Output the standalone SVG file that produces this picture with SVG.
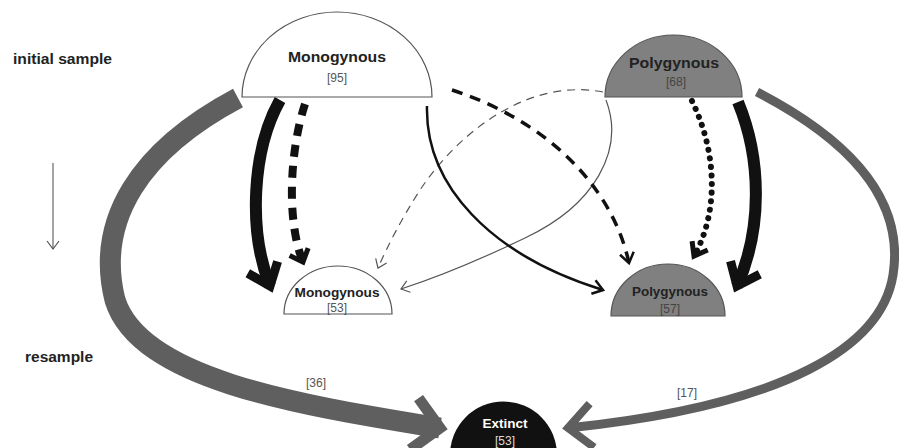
<svg xmlns="http://www.w3.org/2000/svg" width="899" height="448" viewBox="0 0 899 448">
<style>
.lbl{font-family:"Liberation Sans",Arial,sans-serif;font-weight:bold;fill:#222}
.num{font-family:"Liberation Sans",Arial,sans-serif;fill:#555}
.node{stroke:#555;stroke-width:1.2}
.c{fill:none}
</style>
<defs>
<marker id="mGreyL" markerUnits="userSpaceOnUse" orient="auto" markerWidth="1" markerHeight="1" refX="0" refY="0" overflow="visible"><path d="M-26,-26 L0,0 L-26,26" fill="none" stroke="#5f5f5f" stroke-width="11"/></marker>
<marker id="mGreyR" markerUnits="userSpaceOnUse" orient="auto" markerWidth="1" markerHeight="1" refX="0" refY="0" overflow="visible"><path d="M-24,-22 L0,0 L-24,22" fill="none" stroke="#5f5f5f" stroke-width="8"/></marker>
<marker id="mBlackBig" markerUnits="userSpaceOnUse" orient="auto" markerWidth="1" markerHeight="1" refX="0" refY="0" overflow="visible"><path d="M-20,-16 L0,0 L-20,16" fill="none" stroke="#111" stroke-width="9"/></marker>
<marker id="mBlackMid" markerUnits="userSpaceOnUse" orient="auto" markerWidth="1" markerHeight="1" refX="0" refY="0" overflow="visible"><path d="M-11,-10 L0,0 L-11,10" fill="none" stroke="#111" stroke-width="5"/></marker>
<marker id="mBlackThin" markerUnits="userSpaceOnUse" orient="auto" markerWidth="1" markerHeight="1" refX="0" refY="0" overflow="visible"><path d="M-10,-7 L0,0 L-10,7" fill="none" stroke="#111" stroke-width="2.5"/></marker>
<marker id="mDot" markerUnits="userSpaceOnUse" orient="auto" markerWidth="1" markerHeight="1" refX="0" refY="0" overflow="visible"><path d="M-12,-9 L0,0 L-12,9" fill="none" stroke="#111" stroke-width="5"/></marker>
<marker id="mGreyThin" markerUnits="userSpaceOnUse" orient="auto" markerWidth="1" markerHeight="1" refX="0" refY="0" overflow="visible"><path d="M-8,-6 L0,0 L-8,6" fill="none" stroke="#555" stroke-width="1.2"/></marker>
</defs>
<rect width="899" height="448" fill="#fff"/>
<text class="lbl" x="13" y="64" font-size="14" textLength="99" lengthAdjust="spacingAndGlyphs">initial sample</text>
<text class="lbl" x="25" y="362" font-size="14" textLength="68" lengthAdjust="spacingAndGlyphs">resample</text>
<g id="time-arrow"><path class="c" d="M53,163 V249" stroke="#666" stroke-width="1.2" marker-end="url(#mGreyThin)"/></g>
<g id="connectors">
<path class="c" d="M238,98 C140,150 95,220 115,300 C140,380 300,405 440,428" stroke="#5f5f5f" stroke-width="21" marker-end="url(#mGreyL)"/>
<path class="c" d="M757,92 C850,140 905,200 893,275 C882,345 790,405 568,428" stroke="#5f5f5f" stroke-width="9" marker-end="url(#mGreyR)"/>
<path class="c" d="M280,100 C252,150 248,230 270,286" stroke="#111" stroke-width="12" marker-end="url(#mBlackBig)"/>
<path class="c" d="M305,104 C290,150 286,220 303,262" stroke="#111" stroke-width="8" stroke-dasharray="12 9" marker-end="url(#mBlackMid)"/>
<path class="c" d="M603,92 C530,78 460,130 420,190 C402,218 388,245 378,268" stroke="#555" stroke-width="1.2" stroke-dasharray="8 6" marker-end="url(#mGreyThin)"/>
<path class="c" d="M606,100 C625,150 595,205 525,238 C475,262 435,278 401,289" stroke="#555" stroke-width="1.2" marker-end="url(#mGreyThin)"/>
<path class="c" d="M427,106 C425,185 490,255 603,290" stroke="#111" stroke-width="2.5" marker-end="url(#mBlackThin)"/>
<path class="c" d="M452,90 C545,120 612,185 629,263" stroke="#111" stroke-width="3.5" stroke-dasharray="11 8" marker-end="url(#mBlackThin)"/>
<path class="c" d="M692,101 C716,150 720,210 694,256" stroke="#111" stroke-width="6" stroke-linecap="round" stroke-dasharray="0.1 8.5" marker-end="url(#mDot)"/>
<path class="c" d="M738,102 C762,160 762,230 737,286" stroke="#111" stroke-width="12" marker-end="url(#mBlackBig)"/>
</g>
<g id="mono-initial">
<path class="node" d="M242,97 A95,85 0 0 1 432,97 Z" fill="#fff"/>
<text class="lbl" x="337" y="62" font-size="14" text-anchor="middle" textLength="98" lengthAdjust="spacingAndGlyphs">Monogynous</text>
<text class="num" x="337" y="82" font-size="12" text-anchor="middle">[95]</text>
</g>
<g id="poly-initial">
<path class="node" d="M605,97 A68.5,62 0 0 1 742,97 Z" fill="#808080"/>
<text class="lbl" x="674" y="68" font-size="14" text-anchor="middle" textLength="90" lengthAdjust="spacingAndGlyphs">Polygynous</text>
<text class="num" x="676" y="86" font-size="12" text-anchor="middle" style="fill:#444">[68]</text>
</g>
<g id="mono-resample">
<path class="node" d="M284,314 A54,48 0 0 1 392,314 Z" fill="#fff"/>
<text class="lbl" x="337" y="297" font-size="12" text-anchor="middle" textLength="85" lengthAdjust="spacingAndGlyphs">Monogynous</text>
<text class="num" x="337" y="312" font-size="12" text-anchor="middle">[53]</text>
</g>
<g id="poly-resample">
<path class="node" d="M611,316 A57,52 0 0 1 725,316 Z" fill="#808080"/>
<text class="lbl" x="670" y="296" font-size="12" text-anchor="middle" textLength="76" lengthAdjust="spacingAndGlyphs">Polygynous</text>
<text class="num" x="670" y="313" font-size="12" text-anchor="middle" style="fill:#444">[57]</text>
</g>
<g id="extinct">
<circle cx="503.5" cy="455" r="53.5" fill="#111"/>
<text class="lbl" x="505" y="428" font-size="12" text-anchor="middle" style="fill:#fff" textLength="45" lengthAdjust="spacingAndGlyphs">Extinct</text>
<text class="num" x="505" y="445" font-size="12" text-anchor="middle" style="fill:#ddd">[53]</text>
</g>
<text class="num" x="316" y="387" font-size="12" text-anchor="middle">[36]</text>
<text class="num" x="687" y="397" font-size="12" text-anchor="middle">[17]</text>
</svg>
